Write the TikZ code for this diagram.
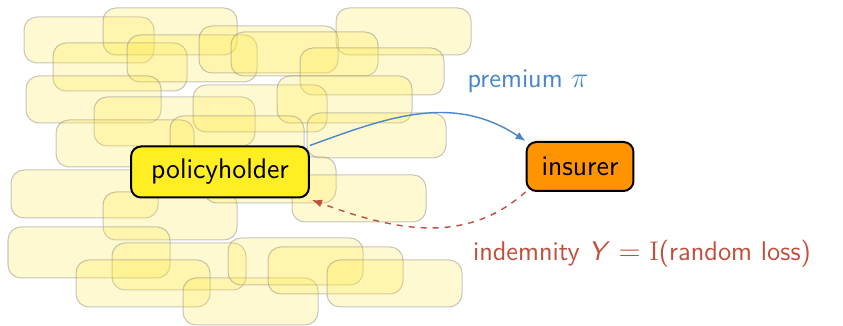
\documentclass[tikz,border=0pt]{standalone}
\usepackage{fontspec}
\usetikzlibrary{arrows.meta}
\definecolor{phyellow}{RGB}{255,238,34}
\definecolor{insorange}{RGB}{255,147,0}
\definecolor{premblue}{RGB}{74,134,200}
\definecolor{indred}{RGB}{192,80,60}
\tikzset{
  crowd/.style={rounded corners=6.5pt, fill={rgb,255:red,255;green,232;blue,70}, fill opacity=0.25, draw=gray, draw opacity=0.45, line width=0.5pt},
  agent/.style={draw=black, line width=1pt, rounded corners=5pt, font=\sffamily\fontsize{14.2}{16}\selectfont, minimum height=24.5pt, inner xsep=7.5pt},
  flow/.style={line width=0.7pt, -{Latex[length=5pt,width=4pt]}}
}
\begin{document}
\begin{tikzpicture}[x=0.5pt,y=-0.5pt]
                \useasboundingbox (0,0) rectangle (843,326);
                % the crowd of other policyholders
                \draw[crowd] (24,17) rectangle (154,63);
                \draw[crowd] (103,8) rectangle (237,55);
                \draw[crowd] (336,8) rectangle (471,55);
                \draw[crowd] (53,43) rectangle (187,91);
                \draw[crowd] (127,35) rectangle (257,82);
                \draw[crowd] (199,26) rectangle (338,73);
                \draw[crowd] (231,32) rectangle (378,76);
                \draw[crowd] (300,48) rectangle (444,95);
                \draw[crowd] (26,76) rectangle (161,123);
                \draw[crowd] (94,97) rectangle (255,146);
                \draw[crowd] (193,85) rectangle (327,132);
                \draw[crowd] (277,76) rectangle (412,123);
                \draw[crowd] (56,120) rectangle (194,167);
                \draw[crowd] (170,116) rectangle (304,163);
                \draw[crowd] (307,113) rectangle (446,158);
                \draw[crowd] (11,170) rectangle (158,218);
                \draw[crowd] (103,192) rectangle (237,240);
                \draw[crowd] (204,157) rectangle (336,203);
                \draw[crowd] (292,175) rectangle (426,222);
                \draw[crowd] (8,227) rectangle (170,278);
                \draw[crowd] (112,243) rectangle (246,290);
                \draw[crowd] (76,260) rectangle (210,307);
                \draw[crowd] (183,278) rectangle (318,325);
                \draw[crowd] (228,238) rectangle (363,285);
                \draw[crowd] (268,247) rectangle (403,294);
                \draw[crowd] (327,260) rectangle (462,307);

                \node[agent, fill=phyellow, minimum height=25.5pt, inner xsep=10pt] (PH) at (220,172) {policyholder};
                \node[agent, fill=insorange] (INS) at (580,166.5) {insurer};

                \node[text=premblue, font=\sffamily\fontsize{13.5}{16}\selectfont] (prem) at (528,81) {premium \(\pi\)};
                \node[text=indred, font=\sffamily\fontsize{13.5}{16}\selectfont] (indem) at (642,254) {indemnity \textit{Y} \(=\) \(\mathrm{I}\)(random loss)};

                \draw[flow, premblue] (PH.north east) .. controls (388,117) and (453,93) .. (INS.north west);
                \draw[flow, indred, dashed] (INS.south west) .. controls (464,247) and (391,229) .. (312,200);
            \end{tikzpicture}
\end{document}
